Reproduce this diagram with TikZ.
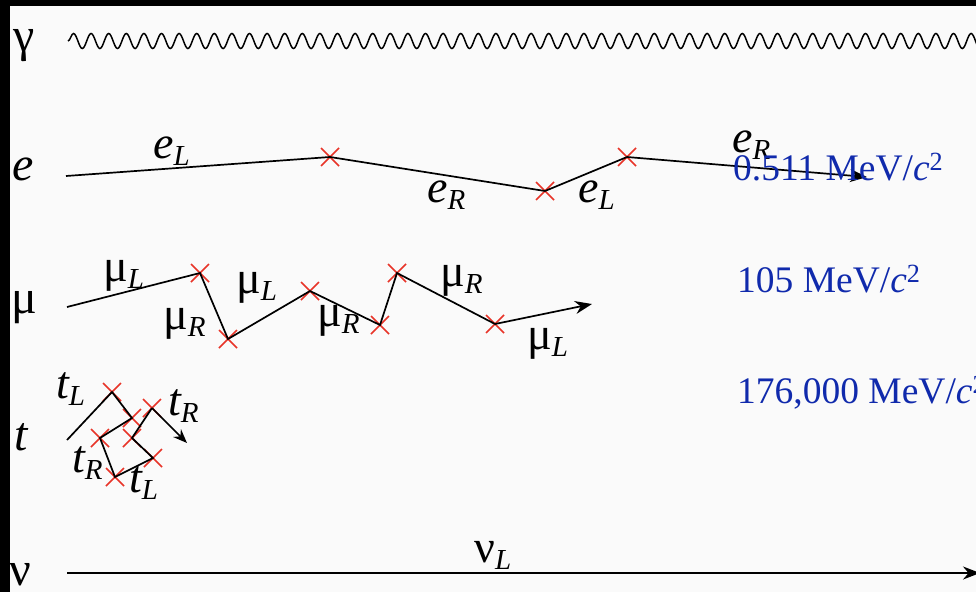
\documentclass[tikz,border=0pt]{standalone}
\usepackage{fontspec}
\setmainfont{Liberation Serif}
\usetikzlibrary{decorations.pathmorphing,shapes.misc,arrows.meta}
\definecolor{bgcol}{RGB}{250,250,250}
\definecolor{xred}{RGB}{232,52,40}
\definecolor{massblue}{RGB}{16,42,172}
\newcommand{\plbl}[2]{#1\raisebox{-7pt}{\fontsize{29}{30}\selectfont\itshape #2}}
\tikzset{
  xmark/.style={cross out, draw=xred, line width=1.5pt, minimum size=16.5pt, inner sep=0pt},
  track/.style={line width=1.7pt, black},
  arr/.style={track, -{Stealth[length=17pt,width=13pt]}},
  plabel/.style={anchor=base west, inner sep=0pt, font=\fontsize{46}{48}\selectfont},
  rowlabel/.style={anchor=base west, inner sep=0pt, font=\fontsize{48}{50}\selectfont},
  mass/.style={anchor=base west, inner sep=0pt, text=massblue, font=\fontsize{37.5}{40}\selectfont},
}
\begin{document}
\begin{tikzpicture}[x=1pt,y=-1pt]
\useasboundingbox (0,0) rectangle (976,592);
\clip (0,0) rectangle (976,592);
\fill[bgcol] (0,0) rectangle (976,592);
\fill[black] (0,0) rectangle (976,6);
\fill[black] (0,0) rectangle (10,592);

% row labels
\node[rowlabel] (lg) at (13,51) {γ};
\node[rowlabel] (le) at (12,180) {\itshape e};
\node[rowlabel] (lm) at (11,313) {μ};
\node[rowlabel] (lt) at (14,450) {\itshape t};
\node[rowlabel] (ln) at (9,585) {ν};

% photon
\coordinate (g0) at (68,41);
\coordinate (g1) at (1000,41);
\draw[line width=1.5pt, decorate, decoration={snake, segment length=17.6pt, amplitude=7.5pt}] (g0) -- (g1);

% electron
\coordinate (e0) at (66,176);
\node[xmark] (e1) at (330,157) {};
\node[xmark] (e2) at (545,191) {};
\node[xmark] (e3) at (627,157) {};
\coordinate (e4) at (867,177);
\draw[track] (e0) -- (e1.center) -- (e2.center) -- (e3.center);
\draw[arr] (e3.center) -- (e4);
\node[plabel] (eL1) at (153,158) {\plbl{\itshape e}{L}};
\node[plabel] (eR1) at (427,202) {\plbl{\itshape e}{R}};
\node[plabel] (eL2) at (578,202) {\plbl{\itshape e}{L}};
\node[plabel] (eR2) at (732,152) {\plbl{\itshape e}{R}};

% muon
\coordinate (m0) at (67,307);
\node[xmark] (m1) at (200,273) {};
\node[xmark] (m2) at (228,339) {};
\node[xmark] (m3) at (310,291) {};
\node[xmark] (m4) at (380,325) {};
\node[xmark] (m5) at (397,273) {};
\node[xmark] (m6) at (495,324) {};
\coordinate (m7) at (592,304);
\draw[track] (m0) -- (m1.center) -- (m2.center) -- (m3.center) -- (m4.center) -- (m5.center) -- (m6.center);
\draw[arr] (m6.center) -- (m7);
\node[plabel] (mL1) at (103,281) {\plbl{μ}{L}};
\node[plabel] (mR1) at (163,329) {\plbl{μ}{R}};
\node[plabel] (mL2) at (236,293) {\plbl{μ}{L}};
\node[plabel] (mR2) at (317,326) {\plbl{μ}{R}};
\node[plabel] (mR3) at (440,286) {\plbl{μ}{R}};
\node[plabel] (mL3) at (527,349) {\plbl{μ}{L}};

% top
\coordinate (t0) at (67,440);
\node[xmark] (t1) at (112,392) {};
\node[xmark] (t2) at (132,418) {};
\node[xmark] (t3) at (100,438) {};
\node[xmark] (t4) at (115,477) {};
\node[xmark] (t5) at (153,458) {};
\node[xmark] (t6) at (132,438) {};
\node[xmark] (t7) at (152,408) {};
\coordinate (t8) at (187,443);
\draw[track] (t0) -- (t1.center) -- (t2.center) -- (t3.center) -- (t4.center) -- (t5.center) -- (t6.center) -- (t7.center);
\draw[track, -{Stealth[length=14pt,width=11pt]}] (t7.center) -- (t8);
\node[plabel] (tL1) at (56,398) {\plbl{\itshape t}{L}};
\node[plabel] (tR1) at (168,415) {\plbl{\itshape t}{R}};
\node[plabel] (tR2) at (72,472) {\plbl{\itshape t}{R}};
\node[plabel] (tL2) at (129,492) {\plbl{\itshape t}{L}};

% neutrino
\coordinate (n0) at (67,573);
\coordinate (n1) at (980,573);
\draw[arr] (n0) -- (n1);
\node[plabel] (nL) at (474,562) {\plbl{ν}{L}};

% masses
\node[mass] (me) at (733,180) {0.511 MeV/\textit{c}\textsuperscript{2}};
\node[mass] (mm) at (737,292) {105 MeV/\textit{c}\textsuperscript{2}};
\node[mass] (mt) at (737,403) {176,000 MeV/\textit{c}\textsuperscript{2}};
\end{tikzpicture}
\end{document}
